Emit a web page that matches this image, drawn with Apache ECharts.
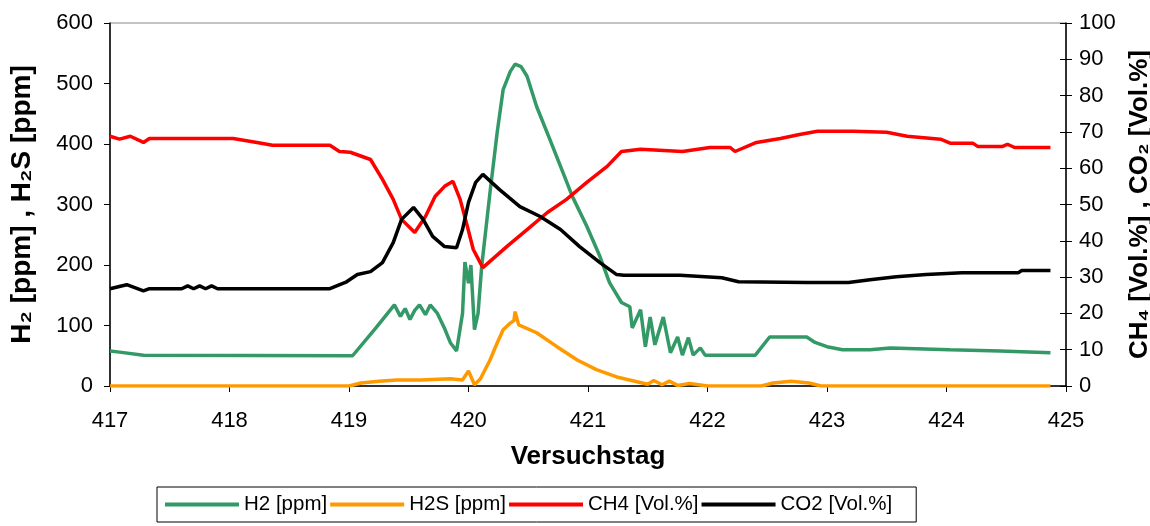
<!DOCTYPE html>
<html>
<head>
<meta charset="utf-8">
<script src="https://cdn.jsdelivr.net/npm/echarts@6/dist/echarts.min.js"></script>
<style>
  html, body { margin: 0; padding: 0; background: #fff; }
  #main { width: 1150px; height: 526px; }
</style>
</head>
<body>
<div id="main"></div>
<script>
// Versuchstag (days) and readings per gas
var h2Days = [417.00, 417.08, 417.28, 419.03, 419.22, 419.38, 419.43, 419.47, 419.51, 419.55, 419.59, 419.64, 419.68, 419.74, 419.80, 419.85, 419.90,
  419.95, 419.97, 420.00, 420.02, 420.05, 420.08, 420.11, 420.18, 420.24, 420.29, 420.35, 420.39, 420.44, 420.49, 420.57, 420.68, 420.79,
  420.87, 420.99, 421.10, 421.18, 421.28, 421.35, 421.37, 421.44, 421.48, 421.52, 421.56, 421.63, 421.69, 421.75, 421.79, 421.84, 421.88,
  421.94, 421.98, 422.40, 422.52, 422.83, 422.90, 423.00, 423.13, 423.36, 423.53, 424.03, 424.45, 424.87];
var h2Vals = [58, 56, 51, 50, 95, 134, 115, 128, 110, 125, 134, 118, 134, 120, 95, 71, 58,
  120, 205, 170, 200, 93, 120, 197, 320, 419, 490, 520, 532, 528, 512, 462, 408, 353,
  313, 264, 214, 171, 138, 131, 96, 126, 65, 114, 68, 114, 55, 81, 51, 80, 51,
  63, 51, 51, 81, 81, 72, 65, 60, 60, 63, 60, 58, 55];

var h2sDays = [417.00, 419.00, 419.10, 419.25, 419.40, 419.60, 419.85, 419.95, 420.00, 420.05, 420.10, 420.18, 420.24, 420.29, 420.35,
  420.38, 420.39, 420.42, 420.57, 420.74, 420.91, 421.07, 421.24, 421.41, 421.50, 421.55, 421.62, 421.68, 421.75, 421.85, 422.00,
  422.45, 422.55, 422.70, 422.85, 422.95, 424.87];
var h2sVals = [0, 0, 5, 8, 10, 10, 12, 10, 25, 2, 12, 43, 71, 93, 104,
  108, 123, 101, 88, 65, 43, 27, 15, 7, 3, 9, 2, 8, 1, 4, 0,
  0, 5, 8, 5, 0, 0];

var ch4Days = [417.00, 417.08, 417.17, 417.28, 417.33, 418.03, 418.23, 418.36, 418.84, 418.92, 419.01, 419.18, 419.28, 419.37, 419.44,
  419.55, 419.64, 419.72, 419.80, 419.87, 419.93, 419.99, 420.04, 420.12, 420.32, 420.49, 420.66, 420.82, 420.99, 421.16, 421.28,
  421.44, 421.79, 422.02, 422.19, 422.23, 422.41, 422.61, 422.77, 422.92, 423.22, 423.50, 423.67, 423.95, 424.03, 424.22, 424.26,
  424.47, 424.51, 424.57, 424.87];
var ch4Vals = [68.8, 68.0, 68.8, 67.1, 68.2, 68.2, 67.1, 66.3, 66.3, 64.6, 64.4, 62.4, 56.9, 51.4, 45.9,
  42.3, 46.7, 52.2, 55.0, 56.4, 51.4, 44.0, 37.6, 32.6, 38.4, 43.1, 47.8, 51.4, 56.1, 60.5, 64.6,
  65.2, 64.6, 65.7, 65.7, 64.6, 67.1, 68.2, 69.3, 70.2, 70.2, 69.9, 68.8, 68.0, 66.9, 66.9, 66.0,
  66.0, 66.6, 65.7, 65.7];

var co2Days = [417.00, 417.14, 417.28, 417.33, 417.60, 417.65, 417.70, 417.75, 417.80, 417.85, 417.90, 418.84, 418.98, 419.07, 419.18,
  419.28, 419.37, 419.44, 419.54, 419.62, 419.70, 419.80, 419.90, 419.95, 420.00, 420.06, 420.12, 420.26, 420.43, 420.60, 420.77,
  420.93, 421.10, 421.24, 421.30, 421.77, 422.12, 422.26, 422.83, 423.18, 423.36, 423.58, 423.83, 424.13, 424.60, 424.63, 424.87];
var co2Vals = [26.8, 27.9, 26.2, 26.8, 26.8, 27.6, 26.8, 27.6, 26.8, 27.6, 26.8, 26.8, 28.7, 30.7, 31.5,
  34.0, 39.5, 45.9, 49.2, 45.9, 41.2, 38.4, 38.1, 43.1, 50.6, 56.1, 58.3, 54.1, 49.4, 46.7, 43.1,
  38.4, 34.0, 30.7, 30.5, 30.5, 29.8, 28.7, 28.5, 28.5, 29.3, 30.1, 30.7, 31.2, 31.2, 31.8, 31.8];

var seriesNames = ['H2 [ppm]', 'H2S [ppm]', 'CH4 [Vol.%]', 'CO2 [Vol.%]'];
var seriesColors = ['#339966', '#ff9900', '#ff0000', '#000000'];

function pairs(days, vals) {
  return days.map(function (d, i) { return [d, vals[i]]; });
}

var font = 'Liberation Sans, Arial, sans-serif';
var chart = echarts.init(document.getElementById('main'));

function lineSeries(i, days, vals, axis) {
  return {
    name: seriesNames[i],
    type: 'line',
    yAxisIndex: axis,
    data: pairs(days, vals),
    showSymbol: false,
    symbol: 'none',
    animation: false,
    lineStyle: { color: seriesColors[i], width: 3.5 },
    itemStyle: { color: seriesColors[i] }
  };
}

var titleStyle = { fontFamily: font, fontSize: 26, fontWeight: 'bold', color: '#000' };
var tickStyle = { fontFamily: font, fontSize: 22, color: '#000' };

chart.setOption({
  backgroundColor: '#fff',
  animation: false,
  grid: {
    left: 110, right: 84, top: 23, bottom: 140,
    outerBoundsMode: 'none', containLabel: false,
    show: true, borderColor: '#888', borderWidth: 1
  },
  legend: {
    bottom: 4,
    left: 157,
    padding: [7, 24, 7, 8],
    borderColor: '#000',
    borderWidth: 1,
    itemGap: 3,
    itemWidth: 74,
    itemHeight: 4,
    icon: 'rect',
    textStyle: { fontFamily: font, fontSize: 20.5, color: '#000' },
    data: seriesNames
  },
  xAxis: {
    type: 'value',
    min: 417, max: 425, interval: 1,
    name: 'Versuchstag',
    nameLocation: 'middle',
    nameGap: 58,
    nameTextStyle: titleStyle,
    axisLine: { lineStyle: { color: '#000', width: 1.5 } },
    axisTick: { length: 6, lineStyle: { color: '#000' } },
    axisLabel: Object.assign({ margin: 24 }, tickStyle),
    splitLine: { show: false }
  },
  yAxis: [{
    type: 'value',
    min: 0, max: 600, interval: 100,
    name: 'H\u2082 [ppm] , H\u2082S [ppm]',
    nameLocation: 'middle',
    nameRotate: 90,
    nameGap: 74,
    nameTextStyle: Object.assign({}, titleStyle, { fontSize: 28 }),
    axisLine: { show: true, lineStyle: { color: '#000', width: 1.5 } },
    axisTick: { show: true, length: 6, lineStyle: { color: '#000' } },
    axisLabel: Object.assign({ margin: 17 }, tickStyle),
    splitLine: { show: false }
  }, {
    type: 'value',
    position: 'right',
    min: 0, max: 100, interval: 10,
    name: 'CH\u2084 [Vol.%] , CO\u2082 [Vol.%]',
    nameLocation: 'middle',
    nameRotate: 90,
    nameGap: 54,
    nameTextStyle: titleStyle,
    axisLine: { show: true, lineStyle: { color: '#000', width: 1.5 } },
    axisTick: { show: true, length: 6, lineStyle: { color: '#000' } },
    axisLabel: Object.assign({ margin: 13 }, tickStyle),
    splitLine: { show: false }
  }, {
    type: 'value',
    position: 'right',
    min: 0, max: 100, interval: 10,
    axisLine: { show: false },
    axisTick: { show: true, inside: true, length: 6, lineStyle: { color: '#000' } },
    axisLabel: { show: false },
    splitLine: { show: false }
  }],
  series: [
    lineSeries(0, h2Days, h2Vals, 0),
    lineSeries(1, h2sDays, h2sVals, 0),
    lineSeries(2, ch4Days, ch4Vals, 1),
    lineSeries(3, co2Days, co2Vals, 1)
  ]
});
</script>
</body>
</html>
